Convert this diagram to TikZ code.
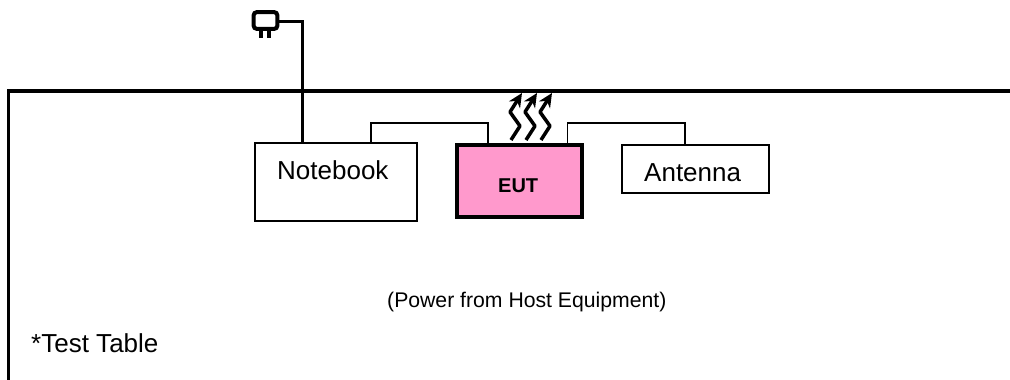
\documentclass[tikz,border=0pt]{standalone}
\usepackage{fontspec}
\setmainfont{Liberation Sans}
\usetikzlibrary{arrows.meta}
\tikzset{
	unitbox/.style={draw, line width=1.2pt, fill=white, inner sep=0pt},
	unittext/.style={inner sep=0pt, anchor=base west, font=\fontsize{26}{26}\selectfont},
	wire/.style={line width=1.2pt},
	thickwire/.style={line width=3.5pt},
}
\definecolor{eutpink}{RGB}{255,153,204}
\begin{document}
\begin{tikzpicture}
[x=1pt, y=-1pt]
\useasboundingbox (0,0) rectangle (1010,380);
% test table edge
\draw[thickwire] (8.5,380) -- (8.5,91) -- (1010,91);
% units
\node[unitbox, minimum width=162pt, minimum height=78pt] (notebook) at (336,182) {};
\node[unitbox, line width=4pt, fill=eutpink, minimum width=125.6pt, minimum height=71.4pt] (eut) at (519.5,181) {};
\node[unitbox, minimum width=147pt, minimum height=48pt] (antenna) at (695.5,169) {};
\node[unittext] (notebooktext) at (277,179.5) {Notebook};
\node[unittext, font=\fontsize{20}{20}\selectfont\bfseries] (euttext) at (498,192.7) {EUT};
\node[unittext] (antennatext) at (644,181.7) {Antenna};
\node[unittext, font=\fontsize{21.2}{21.2}\selectfont] (powertext) at (387,307) {(Power from Host Equipment)};
\node[unittext] (tabletext) at (31,352) {*Test Table};
% power plug
\node[draw, line width=4pt, rounded corners=3pt, inner sep=0pt, minimum width=23.6pt, minimum height=16.7pt] (plug) at (265.5,20.5) {};
\foreach \x in {261,269}{
	\draw[line width=4pt] (\x,29) -- (\x,37.7);
}
\coordinate (cordend) at (302.3,143);
\draw[thickwire] ([yshift=-1pt]plug.east) -| (cordend);
% cables
\coordinate (nbport) at (371,143);
\coordinate (eutleft) at (488,143);
\coordinate (eutright) at (567.5,143);
\coordinate (antport) at (685,145);
\draw[wire] (nbport) -- ++(0,-20) -| (eutleft);
\draw[wire] (eutright) -- ++(0,-20) -| (antport);
% radio waves
\foreach \i in {0,1,2}{
	\draw[line width=3.5pt, line join=round, -{Stealth[length=14pt,width=13pt]}] ({511+\i*15},140) -- ({520+\i*15},126) -- ({510+\i*15},112) -- ({522+\i*15},93);
}
\end{tikzpicture}
\end{document}
